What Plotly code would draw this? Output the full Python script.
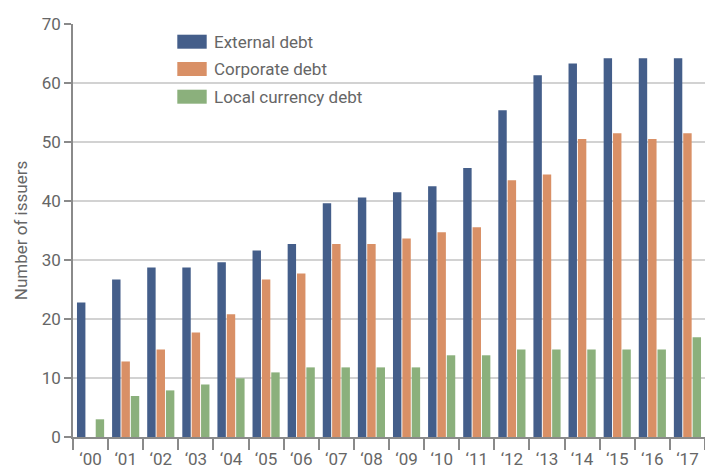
import plotly.graph_objects as go

years = ["‘00", "‘01", "‘02", "‘03", "‘04", "‘05", "‘06", "‘07", "‘08",
         "‘09", "‘10", "‘11", "‘12", "‘13", "‘14", "‘15", "‘16", "‘17"]
series_names = ["External debt", "Corporate debt", "Local currency debt"]
external = [22.8, 26.7, 28.75, 28.75, 29.6, 31.6, 32.7, 39.6, 40.6,
            41.5, 42.5, 45.6, 55.4, 61.3, 63.3, 64.2, 64.2, 64.2]
corporate = [0, 12.8, 14.85, 17.7, 20.8, 26.7, 27.7, 32.7, 32.7,
             33.65, 34.7, 35.55, 43.5, 44.5, 50.5, 51.5, 50.5, 51.5]
local = [3.0, 6.95, 7.9, 8.9, 9.95, 10.95, 11.8, 11.8, 11.8,
         11.8, 13.85, 13.85, 14.85, 14.85, 14.85, 14.85, 14.85, 16.9]
y_ticks = [0, 10, 20, 30, 40, 50, 60, 70]
colors = ["#445e8a", "#d99066", "#8bb07c"]

W, H = 705, 468
ML, MR, MT, MB = 73, 0, 24, 31
PW, PH = W - ML - MR, H - MT - MB

fig = go.Figure()
for name, vals, col in zip(series_names, [external, corporate, local], colors):
    fig.add_trace(go.Bar(x=years, y=vals, name=name, marker_color=col,
                         marker_line_width=0, showlegend=False))

font_fam = "Roboto, Liberation Sans, Arial, sans-serif"
fig.update_layout(
    width=W, height=H,
    margin=dict(l=ML, r=MR, t=MT, b=MB, pad=0, autoexpand=False),
    paper_bgcolor="white", plot_bgcolor="white",
    barmode="group", bargap=0.2, bargroupgap=0.1,
    font=dict(family=font_fam, color="#666666", size=17),
    xaxis=dict(
        type="category", showline=True, linecolor="#8a8a8a", linewidth=1.5,
        ticks="outside", tickson="boundaries", ticklen=11, tickwidth=1.5,
        tickcolor="#8a8a8a", showgrid=False, range=[-0.5, 17.5],
        tickfont=dict(size=17, color="#666666"), automargin=False,
        ticklabelstandoff=6,
    ),
    yaxis=dict(
        range=[0, 70], tickvals=y_ticks, showline=True, linecolor="#8a8a8a",
        linewidth=1.5, ticks="outside", ticklen=7, tickwidth=1.5,
        tickcolor="#8a8a8a", showgrid=True, gridcolor="#d2d2d2", gridwidth=2,
        zeroline=False, tickfont=dict(size=17, color="#666666"), automargin=False,
        title=dict(text="Number of issuers", font=dict(size=17, color="#666666"),
                   standoff=10),
    ),
)

# custom legend (pixel positions converted to paper coordinates)
def px_x(p):
    return (p - ML) / PW

def px_y(p):
    return (H - MB - p) / PH

row_tops = [34.7, 62.0, 89.7]
shapes = []
annots = []
for name, col, top in zip(series_names, colors, row_tops):
    shapes.append(dict(type="rect", xref="paper", yref="paper",
                       x0=px_x(177.3), x1=px_x(206.7), y0=px_y(top + 14), y1=px_y(top),
                       fillcolor=col, line=dict(width=0)))
    annots.append(dict(xref="paper", yref="paper", x=px_x(211.5), y=px_y(top + 7),
                       text=name, showarrow=False, xanchor="left", yanchor="middle",
                       font=dict(size=17, color="#666666")))
fig.update_layout(shapes=shapes, annotations=annots)

fig.write_html("out.html", config={"displayModeBar": False},
               post_script="document.body.style.margin='0';document.body.style.overflow='hidden';")
